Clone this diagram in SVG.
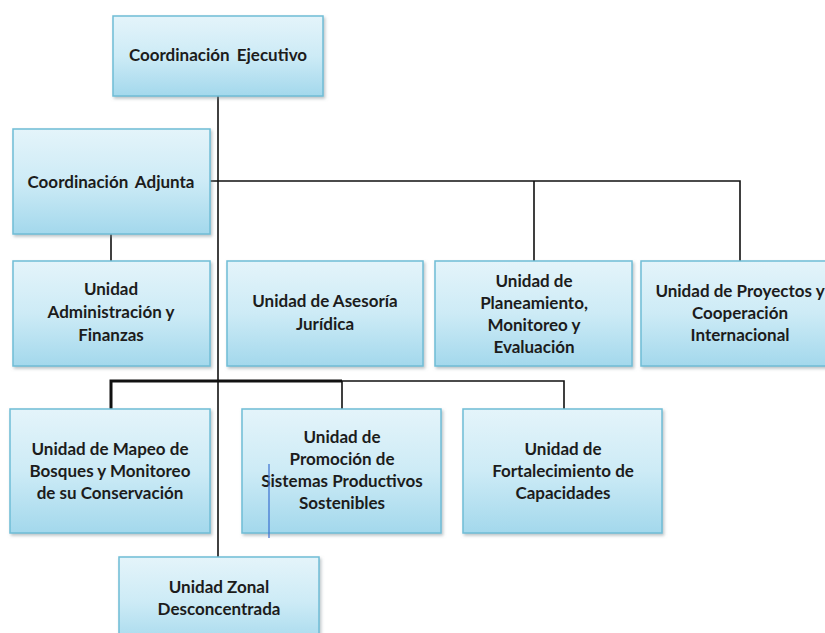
<svg xmlns="http://www.w3.org/2000/svg" width="825" height="633" viewBox="0 0 825 633">
<defs>
<linearGradient id="g" x1="0" y1="0" x2="0" y2="1">
<stop offset="0" stop-color="#e4f4fa"/>
<stop offset="0.5" stop-color="#cdebf6"/>
<stop offset="1" stop-color="#a3d8ec"/>
</linearGradient>
<filter id="sh" x="-5%" y="-5%" width="115%" height="120%">
<feDropShadow dx="1.5" dy="2" stdDeviation="1.5" flood-color="#7a8a90" flood-opacity="0.5"/>
</filter>
</defs>
<style>
.box{fill:url(#g);stroke:#6fbdd6;stroke-width:1.5;filter:url(#sh)}
.t{font-family:"Lato","Liberation Sans",sans-serif;font-weight:bold;font-size:17px;fill:#1c1c1c;text-anchor:middle}
.c{stroke:#111;stroke-width:1.6;fill:none}
.ct{stroke:#111;stroke-width:3;fill:none}
</style>
<rect width="825" height="633" fill="#fff"/>
<g id="connectors">
<path class="c" d="M218 96 V557"/>
<path class="c" d="M210 181 H740 V261 M534 181 V261"/>
<path class="c" d="M111 234 V261"/>
<path class="ct" d="M111 409 V381 H342"/>
<path class="c" d="M342 381 V409 M342 381 H564 V409"/>
</g>
<g id="n1"><rect class="box" x="113" y="16" width="210" height="80"/><text class="t" x="218" y="61" word-spacing="3">Coordinación Ejecutivo</text></g>
<g id="n2"><rect class="box" x="13" y="129" width="197" height="105"/><text class="t" x="111" y="188" word-spacing="3">Coordinación Adjunta</text></g>
<g id="n3"><rect class="box" x="13" y="261" width="197" height="105"/><text class="t" x="111" y="295">Unidad</text><text class="t" x="111" y="318">Administración y</text><text class="t" x="111" y="341">Finanzas</text></g>
<g id="n4"><rect class="box" x="227" y="261" width="196" height="105"/><text class="t" x="325" y="307">Unidad de Asesoría</text><text class="t" x="325" y="330">Jurídica</text></g>
<g id="n5"><rect class="box" x="435" y="261" width="197" height="105"/><text class="t" x="534" y="287">Unidad de</text><text class="t" x="534" y="309">Planeamiento,</text><text class="t" x="534" y="331">Monitoreo y</text><text class="t" x="534" y="353">Evaluación</text></g>
<g id="n6"><rect class="box" x="641" y="261" width="198" height="105"/><text class="t" x="740" y="297">Unidad de Proyectos y</text><text class="t" x="740" y="319">Cooperación</text><text class="t" x="740" y="341">Internacional</text></g>
<g id="n7"><rect class="box" x="10" y="409" width="200" height="124"/><text class="t" x="110" y="455">Unidad de Mapeo de</text><text class="t" x="110" y="477">Bosques y Monitoreo</text><text class="t" x="110" y="499">de su Conservación</text></g>
<g id="n8"><rect class="box" x="242" y="409" width="199" height="124"/><text class="t" x="342" y="443">Unidad de</text><text class="t" x="342" y="465">Promoción de</text><text class="t" x="342" y="487">Sistemas Productivos</text><text class="t" x="342" y="509">Sostenibles</text></g>
<g id="n9"><rect class="box" x="463" y="409" width="199" height="124"/><text class="t" x="563" y="455">Unidad de</text><text class="t" x="563" y="477">Fortalecimiento de</text><text class="t" x="563" y="499">Capacidades</text></g>
<g id="n10"><rect class="box" x="119" y="557" width="200" height="90"/><text class="t" x="219" y="593">Unidad Zonal</text><text class="t" x="219" y="615">Desconcentrada</text></g>
<line x1="269" y1="464" x2="269" y2="538" stroke="#3a6fd0" stroke-width="1.2"/>
</svg>
